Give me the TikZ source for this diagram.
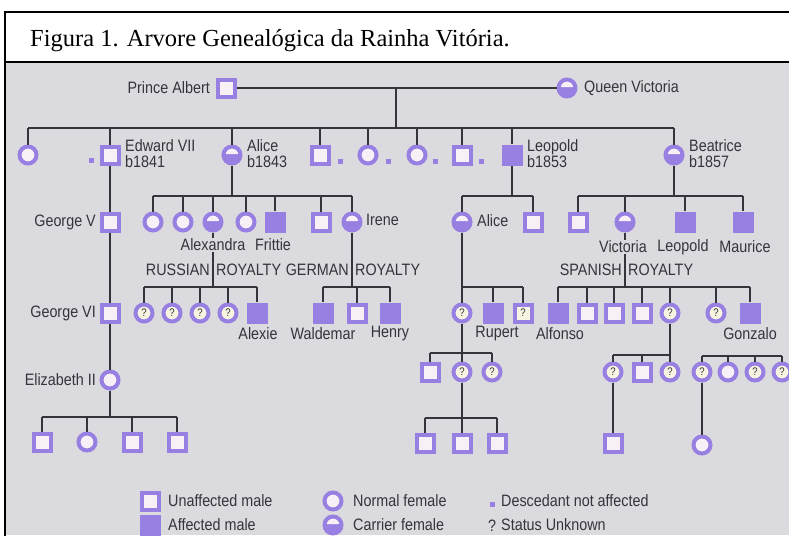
\documentclass[tikz,border=0pt]{standalone}
\usepackage{fontspec}
\newfontfamily\titlefont{Liberation Serif}
\newfontfamily\labfont[FakeStretch=0.87]{Liberation Sans}
\definecolor{pur}{RGB}{152,128,226}
\definecolor{pale}{RGB}{247,241,247}
\definecolor{qpale}{RGB}{247,245,226}
\definecolor{bg}{RGB}{219,218,222}
\definecolor{ink}{RGB}{52,52,58}
\begin{document}
\begin{tikzpicture}[x=1pt,y=-1pt,
	sq/.style={rectangle,draw=pur,fill=pale,line width=4pt,minimum size=17pt,inner sep=0pt},
	asq/.style={rectangle,fill=pur,minimum size=21pt,inner sep=0pt},
	fc/.style={circle,draw=pur,fill=pale,line width=4pt,minimum size=17pt,inner sep=0pt},
	cc/.style={fc,fill=pur,path picture={\fill[pale] (path picture bounding box.center) ++(-10pt,1pt) arc[start angle=180,end angle=0,radius=10pt] -- cycle;}},
	qc/.style={fc,fill=qpale,text=ink,font=\labfont\fontsize{11}{11}\selectfont},
	qsq/.style={sq,fill=qpale,text=ink,font=\labfont\fontsize{11}{11}\selectfont},
	desc/.style={rectangle,fill=pur,minimum size=5pt,inner sep=0pt},
	lab/.style={text=ink,inner sep=1pt,font=\labfont\fontsize{16.5}{16}\selectfont},
	link/.style={draw=ink,line width=1.5pt}]
\useasboundingbox (0,0) rectangle (789,535);
\fill[white] (0,0) rectangle (789,62);
\fill[bg] (5,62) rectangle (789,535);
\draw[line width=2pt] (5,540) -- (5,12) -- (792,12);
\draw[line width=2.5pt] (5,62) -- (792,62);
\node[anchor=base west,inner sep=0pt,font=\titlefont\fontsize{24.5}{26}\selectfont] (title) at (30,47) {Figura 1. Arvore Genealógica da Rainha Vitória.};

% generation I
\node[sq] (albert) at (226,88) {};
\node[cc] (victoria) at (567,88) {};
\node[lab,anchor=east] (albertlab) at (211,88) {Prince Albert};
\node[lab,anchor=west] (victorialab) at (583,88) {Queen Victoria};

% generation II
\node[fc] (c1) at (28,155) {};
\node[sq] (edward) at (110,155) {};
\node[cc] (aliceA) at (232,155) {};
\node[sq] (s4) at (320,155) {};
\node[fc] (c5) at (368,155) {};
\node[fc] (c6) at (417,155) {};
\node[sq] (s7) at (462,155) {};
\node[asq] (leopold) at (512,155) {};
\node[cc] (beatrice) at (674,155) {};
\node[desc] (d1) at (91,160) {};
\node[desc] (d2) at (340,161) {};
\node[desc] (d3) at (388,161) {};
\node[desc] (d4) at (435,161) {};
\node[desc] (d5) at (481,161) {};
\node[lab,anchor=west,align=left] (edwardlab) at (124,154) {Edward VII\\b1841};
\node[lab,anchor=west,align=left] (alicelab) at (246,154) {Alice\\b1843};
\node[lab,anchor=west,align=left] (leopoldlab) at (526,154) {Leopold\\b1853};
\node[lab,anchor=west,align=left] (beatricelab) at (688,154) {Beatrice\\b1857};

% generation III
\node[sq] (georgeV) at (110,222) {};
\node[fc] (a1) at (153,222) {};
\node[fc] (a2) at (183,222) {};
\node[cc] (alexandra) at (213,222) {};
\node[fc] (a4) at (246,222) {};
\node[asq] (frittie) at (275,222) {};
\node[sq] (a6) at (321,222) {};
\node[cc] (irene) at (352,222) {};
\node[cc] (aliceL) at (462,222) {};
\node[sq] (l2) at (533,222) {};
\node[sq] (b1) at (578,222) {};
\node[cc] (victoriaB) at (625,222) {};
\node[asq] (leopoldB) at (685,222) {};
\node[asq] (maurice) at (743,222) {};

% generation IV
\node[sq] (georgeVI) at (110,313) {};
\foreach \n/\x in {r1/144,r2/172,r3/200,r4/228}
	\node[qc] (\n) at (\x,313) {?};
\node[asq] (alexie) at (257,313) {};
\node[asq] (waldemar) at (323,313) {};
\node[sq] (g2) at (357,313) {};
\node[asq] (henry) at (390,313) {};
\node[qc] (al1) at (462,313) {?};
\node[asq] (rupert) at (493,313) {};
\node[qsq] (al3) at (523,313) {?};
\node[asq] (alfonso) at (558,313) {};
\node[sq] (sp2) at (587,313) {};
\node[sq] (sp3) at (614,313) {};
\node[sq] (sp4) at (642,313) {};
\node[qc] (sp5) at (670,313) {?};
\node[qc] (sp6) at (716,313) {?};
\node[asq] (gonzalo) at (750,313) {};

% generation V and VI
\node[fc] (elizabeth) at (110,380) {};
\node[sq] (e1) at (42,442) {};
\node[fc] (e2) at (87,442) {};
\node[sq] (e3) at (132,442) {};
\node[sq] (e4) at (177,442) {};
\node[sq] (k1) at (430,372) {};
\node[qc] (k2) at (462,372) {?};
\node[qc] (k3) at (492,372) {?};
\node[sq] (m1) at (425,443) {};
\node[sq] (m2) at (462,443) {};
\node[sq] (m3) at (497,443) {};
\node[qc] (n1) at (613,372) {?};
\node[sq] (n2) at (642,372) {};
\node[qc] (n3) at (670,372) {?};
\node[sq] (p1) at (613,443) {};
\node[qc] (o1) at (702,372) {?};
\node[fc] (o2) at (728,372) {};
\node[qc] (o3) at (755,372) {?};
\node[qc] (o4) at (782,372) {?};
\node[fc] (q1) at (702,445) {};

% connectors
\coordinate (vm) at (396,88);
\coordinate (vbar) at (396,128);
\draw[link] (albert) -- (victoria);
\draw[link] (vm) -- (vbar);
\draw[link] (c1 |- vbar) -- (beatrice |- vbar);
\foreach \k in {c1,edward,aliceA,s4,c5,c6,s7,leopold,beatrice}
	\draw[link] (\k) -- (\k |- vbar);
\draw[link] (edward) -- (georgeV) -- (georgeVI) -- (elizabeth);
\coordinate (abar) at (232,196);
\draw[link] (aliceA) -- (abar);
\draw[link] (a1 |- abar) -- (irene |- abar);
\foreach \k in {a1,a2,alexandra,a4,frittie,a6,irene}
	\draw[link] (\k) -- (\k |- abar);
\coordinate (lbar) at (512,196);
\draw[link] (leopold) -- (lbar);
\draw[link] (aliceL |- lbar) -- (l2 |- lbar);
\foreach \k in {aliceL,l2}
	\draw[link] (\k) -- (\k |- lbar);
\coordinate (bbar) at (674,196);
\draw[link] (beatrice) -- (bbar);
\draw[link] (b1 |- bbar) -- (maurice |- bbar);
\foreach \k in {b1,victoriaB,leopoldB,maurice}
	\draw[link] (\k) -- (\k |- bbar);
\coordinate (rbar) at (213,287);
\draw[link] (alexandra) -- (rbar);
\draw[link] (r1 |- rbar) -- (alexie |- rbar);
\foreach \k in {r1,r2,r3,r4,alexie}
	\draw[link] (\k) -- (\k |- rbar);
\coordinate (gbar) at (352,287);
\draw[link] (irene) -- (gbar);
\draw[link] (waldemar |- gbar) -- (henry |- gbar);
\foreach \k in {waldemar,g2,henry}
	\draw[link] (\k) -- (\k |- gbar);
\coordinate (albar) at (462,287);
\draw[link] (aliceL) -- (albar);
\draw[link] (al1 |- albar) -- (al3 |- albar);
\foreach \k in {al1,rupert,al3}
	\draw[link] (\k) -- (\k |- albar);
\coordinate (sbar) at (625,287);
\draw[link] (victoriaB) -- (sbar);
\draw[link] (alfonso |- sbar) -- (gonzalo |- sbar);
\foreach \k in {alfonso,sp2,sp3,sp4,sp5,sp6,gonzalo}
	\draw[link] (\k) -- (\k |- sbar);
\coordinate (ebar) at (110,417);
\draw[link] (elizabeth) -- (ebar);
\draw[link] (e1 |- ebar) -- (e4 |- ebar);
\foreach \k in {e1,e2,e3,e4}
	\draw[link] (\k) -- (\k |- ebar);
\coordinate (kbar) at (462,353);
\draw[link] (al1) -- (kbar);
\draw[link] (k1 |- kbar) -- (k3 |- kbar);
\foreach \k in {k1,k2,k3}
	\draw[link] (\k) -- (\k |- kbar);
\coordinate (mbar) at (462,418);
\draw[link] (k2) -- (mbar);
\draw[link] (m1 |- mbar) -- (m3 |- mbar);
\foreach \k in {m1,m2,m3}
	\draw[link] (\k) -- (\k |- mbar);
\coordinate (nbar) at (670,355);
\draw[link] (sp5) -- (nbar);
\draw[link] (n1 |- nbar) -- (n3 |- nbar);
\foreach \k in {n1,n2,n3}
	\draw[link] (\k) -- (\k |- nbar);
\draw[link] (n1) -- (p1);
\coordinate (obar) at (702,356);
\draw[link] (o1 |- obar) -- (o4 |- obar);
\foreach \k in {o1,o2,o3,o4}
	\draw[link] (\k) -- (\k |- obar);
\draw[link] (o1) -- (q1);

% names
\node[lab,anchor=east] (georgeVlab) at (97,222) {George V};
\node[lab,anchor=east] (georgeVIlab) at (97,313) {George VI};
\node[lab,anchor=east] (elizabethlab) at (97,380) {Elizabeth II};
\node[lab,anchor=west] (irenelab) at (365,220) {Irene};
\node[lab,anchor=west] (alicelLab) at (476,221) {Alice};
\node[lab,fill=bg] (alexandralab) at (213,245) {Alexandra};
\node[lab] (frittielab) at (273,245) {Frittie};
\node[lab,fill=bg] (victoriaBlab) at (623,247) {Victoria};
\node[lab] (leopoldBlab) at (683,247) {Leopold};
\node[lab] (mauricelab) at (745,247) {Maurice};
\node[lab,anchor=east] (rus1) at (211,270) {RUSSIAN};
\node[lab,anchor=west] (rus2) at (215,270) {ROYALTY};
\node[lab,anchor=east] (ger1) at (350,270) {GERMAN};
\node[lab,anchor=west] (ger2) at (354,270) {ROYALTY};
\node[lab,anchor=east] (spa1) at (623,270) {SPANISH};
\node[lab,anchor=west] (spa2) at (627,270) {ROYALTY};
\node[lab] (alexielab) at (258,334) {Alexie};
\node[lab] (waldemarlab) at (323,334) {Waldemar};
\node[lab] (henrylab) at (390,334) {Henry};
\node[lab] (rupertlab) at (497,334) {Rupert};
\node[lab] (alfonsolab) at (560,334) {Alfonso};
\node[lab] (gonzalolab) at (750,334) {Gonzalo};

% key
\node[sq] (key1) at (150,501) {};
\node[lab,anchor=west] (key1lab) at (167,501) {Unaffected male};
\node[fc] (key2) at (333,501) {};
\node[lab,anchor=west] (key2lab) at (352,501) {Normal female};
\node[desc] (key3) at (492,504) {};
\node[lab,anchor=west] (key3lab) at (500,501) {Descedant not affected};
\node[asq] (key4) at (150,525) {};
\node[lab,anchor=west] (key4lab) at (167,525) {Affected male};
\node[cc] (key5) at (333,525) {};
\node[lab,anchor=west] (key5lab) at (352,525) {Carrier female};
\node[lab] (key6) at (492,526) {?};
\node[lab,anchor=west] (key6lab) at (500,525) {Status Unknown};
\end{tikzpicture}
\end{document}
